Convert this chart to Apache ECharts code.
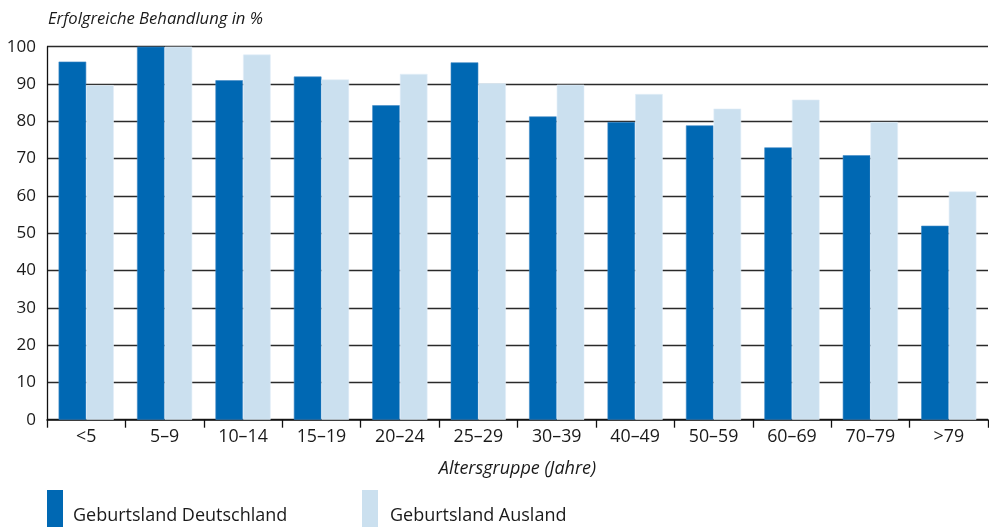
<!DOCTYPE html>
<html>
<head>
<meta charset="utf-8">
<script src="https://cdn.jsdelivr.net/npm/echarts@6/dist/echarts.min.js"></script>
<style>
  html, body { margin: 0; padding: 0; background: #fff; }
  #chart { width: 989px; height: 527px; }
</style>
</head>
<body>
<div id="chart"></div>
<script>
// Altersgruppen (Jahre)
const categories = ['<5', '5–9', '10–14', '15–19', '20–24', '25–29', '30–39', '40–49', '50–59', '60–69', '70–79', '>79'];
// Erfolgreiche Behandlung in %
const deutschland = [96.0, 100, 91.0, 92.0, 84.3, 95.8, 81.3, 79.8, 78.9, 73.0, 70.9, 52.0];
const ausland = [89.7, 100, 97.9, 91.2, 92.7, 90.2, 89.8, 87.3, 83.4, 85.8, 79.8, 61.2];
const yTicks = [0, 10, 20, 30, 40, 50, 60, 70, 80, 90, 100];

const FONT = '"Open Sans", Lato, sans-serif';
const DARK = '#0068b3';
const LIGHT = '#cbe0ef';
const INK = '#1a1a1a';

const chart = echarts.init(document.getElementById('chart'), null, { renderer: 'canvas' });

chart.setOption({
  animation: false,
  textStyle: { fontFamily: FONT, color: INK },
  title: {
    text: 'Erfolgreiche Behandlung in %',
    left: 43,
    top: 6,
    textStyle: { fontFamily: FONT, fontStyle: 'italic', fontWeight: 'normal', fontSize: 16.6, color: INK }
  },
  legend: [
    {
      data: ['Geburtsland Deutschland'],
      left: 42, top: 485,
      itemWidth: 16, itemHeight: 52, itemGap: 0,
      icon: 'rect',
      textStyle: { fontFamily: FONT, fontSize: 18, color: INK, padding: [0, 0, 0, 5] },
      itemStyle: { borderWidth: 0 }
    },
    {
      data: ['Geburtsland Ausland'],
      left: 357, top: 485,
      itemWidth: 16, itemHeight: 52, itemGap: 0,
      icon: 'rect',
      textStyle: { fontFamily: FONT, fontSize: 18, color: INK, padding: [0, 0, 0, 7] },
      itemStyle: { borderWidth: 0 }
    }
  ],
  grid: { left: 47, right: 1, top: 46.7, bottom: 107.3, containLabel: false },
  xAxis: {
    type: 'category',
    data: categories,
    name: 'Altersgruppe (Jahre)',
    nameLocation: 'middle',
    nameGap: 40,
    nameTextStyle: { fontFamily: FONT, fontStyle: 'italic', fontSize: 18, color: INK },
    axisLine: { lineStyle: { color: '#111', width: 1.5 } },
    axisTick: { show: true, length: 8, lineStyle: { color: '#111', width: 1.3 } },
    axisLabel: { fontFamily: FONT, fontSize: 17.8, color: INK, margin: 8 }
  },
  yAxis: {
    type: 'value',
    min: yTicks[0],
    max: yTicks[yTicks.length - 1],
    interval: 10,
    axisLine: { show: true, lineStyle: { color: '#111', width: 1.3 } },
    axisTick: { show: false },
    axisLabel: { fontFamily: FONT, fontSize: 17, color: INK, margin: 11 },
    splitLine: { show: true, lineStyle: { color: '#2a2a2a', width: 1.3 } }
  },
  series: [
    {
      name: 'Geburtsland Deutschland',
      type: 'bar',
      data: deutschland,
      barWidth: '35.2%',
      barGap: '0%',
      itemStyle: { color: DARK, borderColor: '#3f8ac6', borderWidth: 0.6 }
    },
    {
      name: 'Geburtsland Ausland',
      type: 'bar',
      data: ausland,
      barWidth: '35.2%',
      itemStyle: { color: LIGHT, borderColor: '#e3eff8', borderWidth: 0.6 }
    }
  ]
});
</script>
</body>
</html>
